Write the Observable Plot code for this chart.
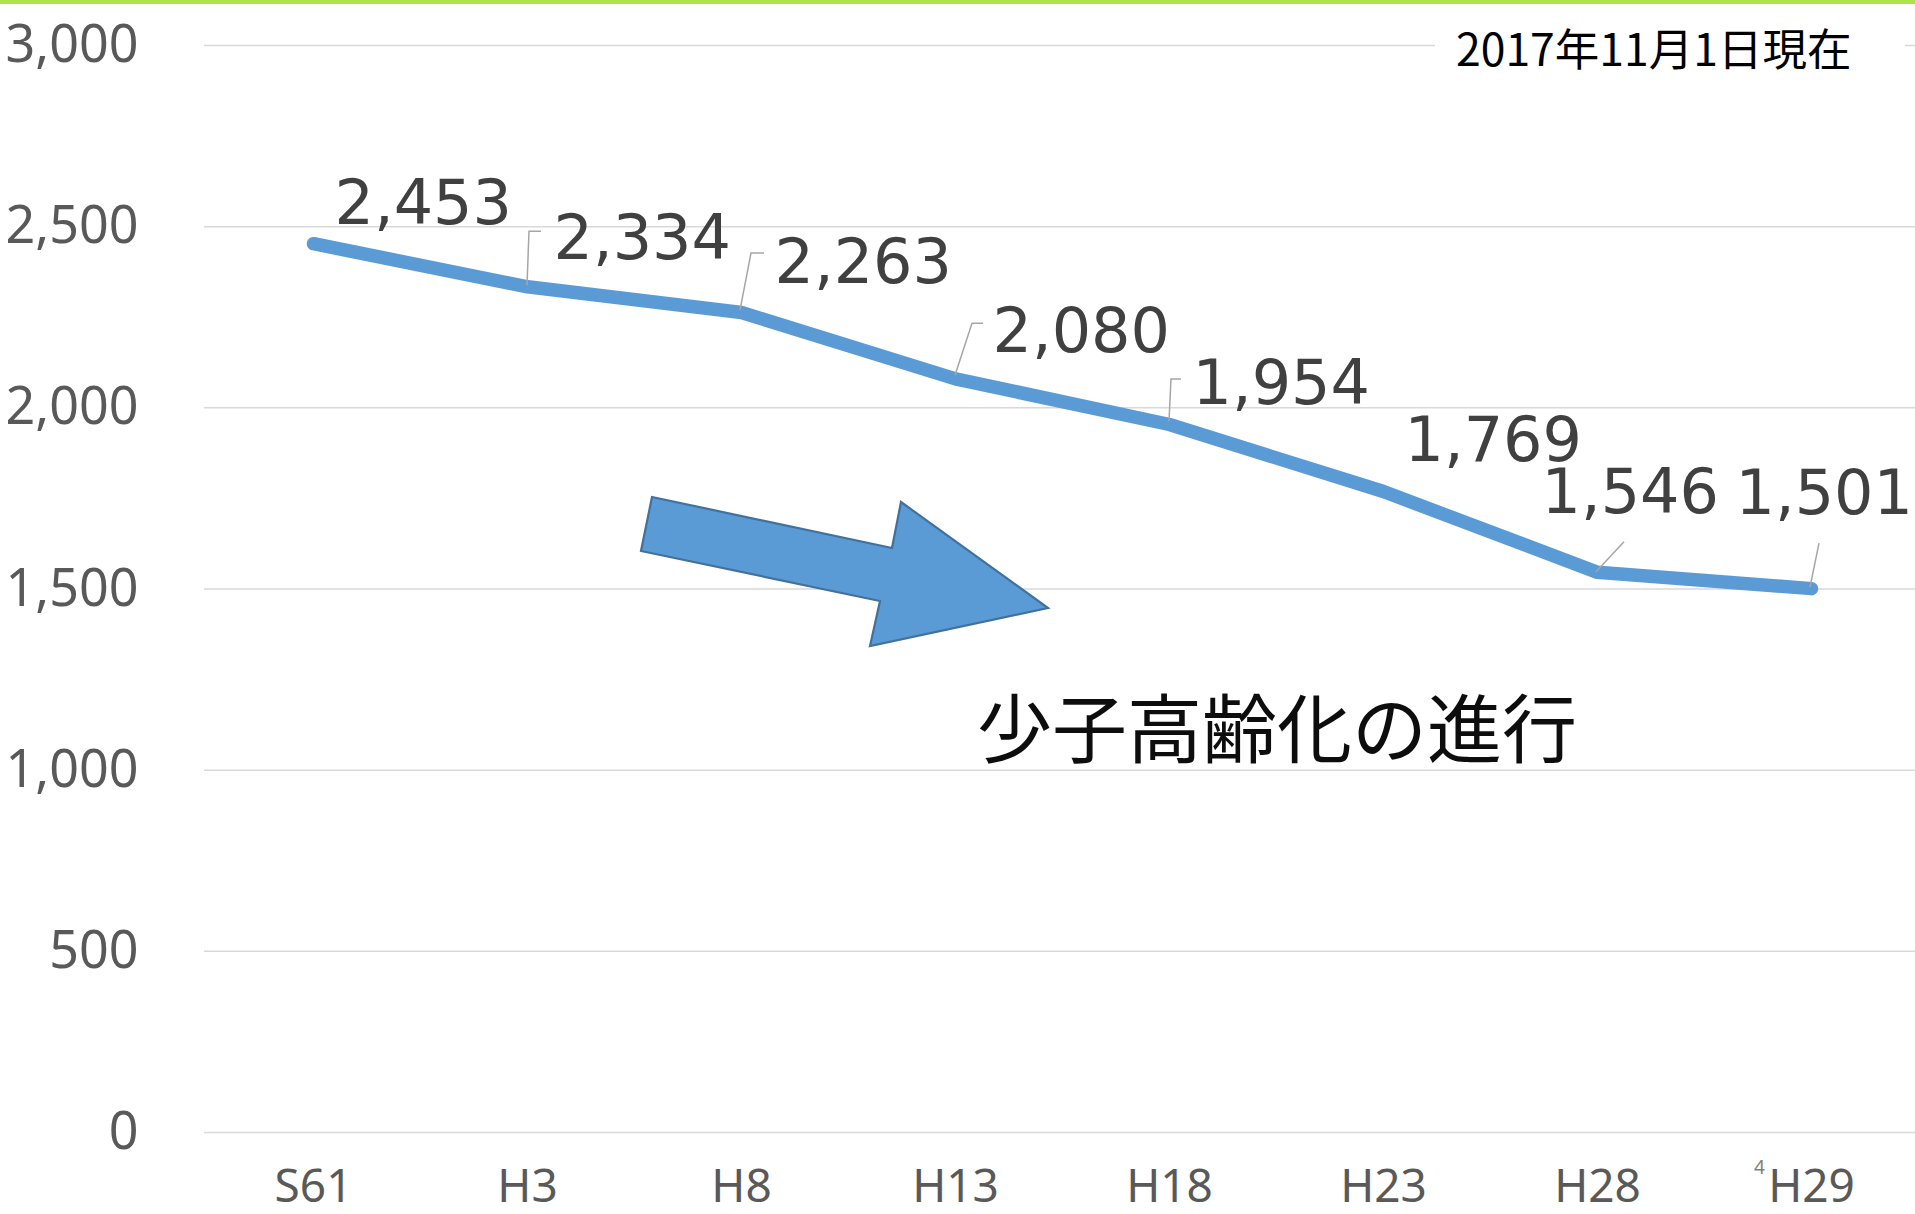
<!DOCTYPE html>
<html><head><meta charset="utf-8">
<script src="https://cdn.jsdelivr.net/npm/d3@7"></script>
<script src="https://cdn.jsdelivr.net/npm/@observablehq/plot@0.6"></script>
<style>
html,body{margin:0;padding:0;background:#fff;}
#chart svg{display:block;}
</style></head><body><div id="chart"></div>
<script>
// ---- data ----
const categories = ["S61","H3","H8","H13","H18","H23","H28","H29"];
const values = [2453,2334,2263,2080,1954,1769,1546,1501];
const yTicks = [0,500,1000,1500,2000,2500,3000];
const noteText = "2017年11月1日現在";
const trendText = "少子高齢化の進行";
const pageNo = "4";

// ---- layout (pixel offsets, not data) ----
const labelOffsets = [[21,-20],[26,-28],[33,-30],[37,-27],[23,-21],[21,-31],[-56,-59],[-76,-75]];
const leaders = {
  1: [[0,-1],[2,-55],[14,-55]],
  2: [[-1,-2],[10,-59],[23,-59]],
  3: [[0,-3],[17,-55],[28,-55]],
  4: [[0,-3],[2,-45],[12,-45]],
  6: [[-1,0],[27,-30]],
  7: [[-1,-1],[8,-45]]
};
const arrowPts = [[652,497],[892,548],[901,502],[1048,608],[870,646],[880,601],[641,551]];

const fmt = d3.format(",");
const data = categories.map((c,i)=>({cat:c, value:values[i]}));

const chart = Plot.plot({
  width:1915, height:1214,
  marginLeft:204, marginRight:0, marginTop:45, marginBottom:82,
  style:{fontFamily:"'Noto Sans', sans-serif", background:"#fff"},
  x:{type:"point", domain:categories, padding:0, insetLeft:106, insetRight:101},
  y:{domain:[0,3000]},
  marks:[
    Plot.ruleY(yTicks,{stroke:"#d9d9d9", strokeWidth:1.5}),
    Plot.axisY(yTicks,{tickSize:0, tickPadding:66, fontSize:52, color:"#595959", label:null, tickFormat:fmt}),
    Plot.axisX({tickSize:0, tickPadding:37, fontSize:46, color:"#595959", label:null}),
    Plot.line(data,{x:"cat", y:"value", stroke:"#5b9bd5", strokeWidth:13.5, strokeLinecap:"round", strokeLinejoin:"round"}),
    ...data.map((d,i)=>Plot.text([d],{x:"cat", y:"value", text:e=>fmt(e.value), textAnchor:"start", lineAnchor:"bottom",
      dx:labelOffsets[i][0], dy:labelOffsets[i][1], fontSize:62, fontFamily:"'DejaVu Sans', sans-serif", fill:"#404040"}))
  ]
});
document.getElementById("chart").appendChild(chart);

const svg = d3.select(chart);
const xs = chart.scale("x"), ys = chart.scale("y");

// leader lines
Object.entries(leaders).forEach(([i,pts])=>{
  const d = data[+i];
  const px = xs.apply(d.cat), py = ys.apply(d.value);
  svg.append("path")
    .attr("d", d3.line()(pts.map(p=>[px+p[0], py+p[1]])))
    .attr("fill","none").attr("stroke","#a6a6a6").attr("stroke-width",1.5);
});

// trend arrow
svg.append("polygon")
  .attr("points", arrowPts.map(p=>p.join(",")).join(" "))
  .attr("fill","#5b9bd5").attr("stroke","#41719c").attr("stroke-width",2.2).attr("stroke-linejoin","miter");

// trend text
svg.append("text").text(trendText)
  .attr("x",977).attr("y",757).attr("text-anchor","start")
  .attr("font-family","'Noto Sans CJK JP', sans-serif").attr("font-size",75).attr("fill","#0d0d0d");

// date note with white box
svg.append("rect").attr("x",1435).attr("y",18).attr("width",470).attr("height",56).attr("fill","#fff");
svg.append("text").text(noteText)
  .attr("x",1456).attr("y",46).attr("dominant-baseline","central").attr("text-anchor","start")
  .attr("font-family","'Noto Sans CJK JP', sans-serif").attr("font-size",44.5).attr("fill","#000");

// page number
svg.append("text").text(pageNo)
  .attr("x",1754).attr("y",1174).attr("text-anchor","start")
  .attr("font-family","'Noto Sans', sans-serif").attr("font-size",19).attr("fill","#7f7f7f");

// top green bar
svg.append("rect").attr("x",0).attr("y",0).attr("width",1915).attr("height",4).attr("fill","#aee34a");
</script>
</body></html>
